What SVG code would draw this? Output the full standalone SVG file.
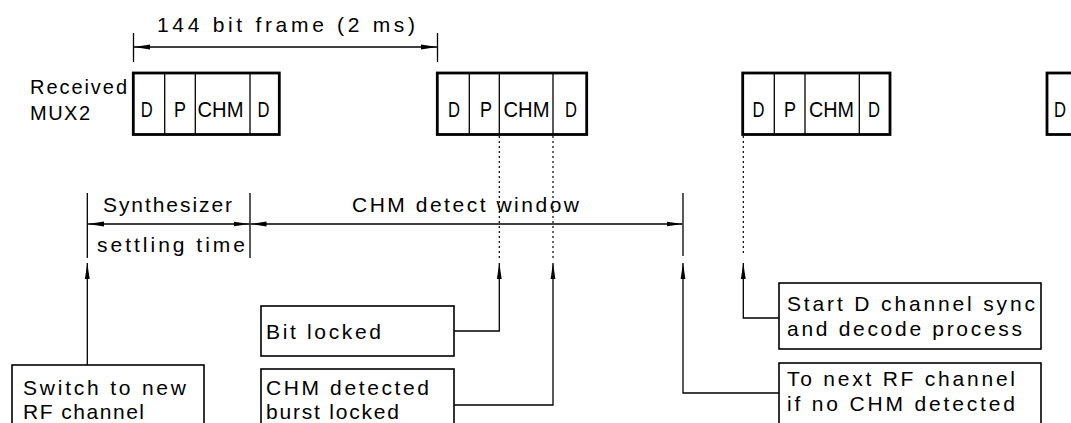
<svg xmlns="http://www.w3.org/2000/svg" width="1071" height="423" viewBox="0 0 1071 423">
<defs>
<style>
text{font-family:"Liberation Sans",Arial,sans-serif;fill:#000;}
.t{font-size:21px;}
.r{font-size:20px;}
.f{font-size:22.5px;}
.ln{stroke:#000;stroke-width:1.3;fill:none;}
.dot{stroke:#000;stroke-width:1.2;fill:none;stroke-dasharray:2 3;}
.frame{stroke:#000;stroke-width:2.8;fill:#fff;}
.div{stroke:#000;stroke-width:1.3;}
.box{stroke:#000;stroke-width:1.6;fill:#fff;}
</style>
<marker id="ah" viewBox="0 0 16 6" refX="16" refY="3" markerWidth="16" markerHeight="6" markerUnits="userSpaceOnUse" orient="auto-start-reverse">
<path d="M0,0.6 L16,3 L0,5.4 Z" fill="#000"/>
</marker>
</defs>
<rect width="1071" height="423" fill="#fff"/>

<g id="dim-frame">
<line class="ln" x1="133.5" y1="33" x2="133.5" y2="62"/>
<line class="ln" x1="437.5" y1="33" x2="437.5" y2="62"/>
<line class="ln" x1="134" y1="47" x2="437" y2="47" marker-start="url(#ah)" marker-end="url(#ah)"/>
<text class="t" x="157" y="32" textLength="258" lengthAdjust="spacing">144 bit frame (2 ms)</text>
</g>

<g id="label-received">
<text class="r" x="30" y="94" textLength="97" lengthAdjust="spacing">Received</text>
<text class="r" x="30" y="120" textLength="60" lengthAdjust="spacing">MUX2</text>
</g>

<g id="frame1">
<rect class="frame" x="133.3" y="73" width="146" height="61.5"/>
<line class="div" x1="164.7" y1="73" x2="164.7" y2="134.5"/>
<line class="div" x1="195.3" y1="73" x2="195.3" y2="134.5"/>
<line class="div" x1="250" y1="73" x2="250" y2="134.5"/>
<text class="f" x="140.7" y="116.5" textLength="12" lengthAdjust="spacingAndGlyphs">D</text>
<text class="f" x="174" y="116.5" textLength="12" lengthAdjust="spacingAndGlyphs">P</text>
<text class="f" x="197.5" y="116.5" textLength="46" lengthAdjust="spacingAndGlyphs">CHM</text>
<text class="f" x="257.5" y="116.5" textLength="12" lengthAdjust="spacingAndGlyphs">D</text>
</g>

<g id="frame2">
<rect class="frame" x="437.3" y="73" width="149.4" height="61.5"/>
<line class="div" x1="469.3" y1="73" x2="469.3" y2="134.5"/>
<line class="div" x1="499.3" y1="73" x2="499.3" y2="134.5"/>
<line class="div" x1="553" y1="73" x2="553" y2="134.5"/>
<text class="f" x="448" y="116.5" textLength="12" lengthAdjust="spacingAndGlyphs">D</text>
<text class="f" x="480" y="116.5" textLength="12" lengthAdjust="spacingAndGlyphs">P</text>
<text class="f" x="503.5" y="116.5" textLength="46" lengthAdjust="spacingAndGlyphs">CHM</text>
<text class="f" x="565" y="116.5" textLength="12" lengthAdjust="spacingAndGlyphs">D</text>
</g>

<g id="frame3">
<rect class="frame" x="742.7" y="73" width="147.3" height="61.5"/>
<line class="div" x1="774.3" y1="73" x2="774.3" y2="134.5"/>
<line class="div" x1="805" y1="73" x2="805" y2="134.5"/>
<line class="div" x1="859.3" y1="73" x2="859.3" y2="134.5"/>
<text class="f" x="752.5" y="116.5" textLength="12" lengthAdjust="spacingAndGlyphs">D</text>
<text class="f" x="784" y="116.5" textLength="12" lengthAdjust="spacingAndGlyphs">P</text>
<text class="f" x="809" y="116.5" textLength="45" lengthAdjust="spacingAndGlyphs">CHM</text>
<text class="f" x="868" y="116.5" textLength="12" lengthAdjust="spacingAndGlyphs">D</text>
</g>

<g id="frame4">
<rect class="frame" x="1047" y="73" width="40" height="61.5"/>
<text class="f" x="1054" y="116.5" textLength="12" lengthAdjust="spacingAndGlyphs">D</text>
</g>

<g id="dim-synth">
<line class="ln" x1="87.3" y1="193" x2="87.3" y2="258"/>
<line class="ln" x1="250" y1="193" x2="250" y2="258"/>
<line class="ln" x1="683" y1="193" x2="683" y2="256"/>
<line class="ln" x1="88" y1="224" x2="249.5" y2="224" marker-start="url(#ah)" marker-end="url(#ah)"/>
<line class="ln" x1="250.5" y1="224" x2="682.5" y2="224" marker-start="url(#ah)" marker-end="url(#ah)"/>
<text class="t" x="103" y="212" textLength="129" lengthAdjust="spacing">Synthesizer</text>
<text class="t" x="97" y="252" textLength="148" lengthAdjust="spacing">settling time</text>
<text class="t" x="352" y="212" textLength="227" lengthAdjust="spacing">CHM detect window</text>
</g>

<g id="box-switch">
<rect class="box" x="12" y="365" width="192" height="70"/>
<text class="t" x="23" y="395" textLength="163" lengthAdjust="spacing">Switch to new</text>
<text class="t" x="23" y="419" textLength="121" lengthAdjust="spacing">RF channel</text>
</g>

<g id="box-bit-locked">
<rect class="box" x="261" y="306" width="193" height="50"/>
<text class="t" x="266" y="339" textLength="115" lengthAdjust="spacing">Bit locked</text>
</g>

<g id="box-chm-detected">
<rect class="box" x="261" y="369" width="193" height="66"/>
<text class="t" x="266" y="395" textLength="163" lengthAdjust="spacing">CHM detected</text>
<text class="t" x="266" y="419" textLength="133" lengthAdjust="spacing">burst locked</text>
</g>

<g id="box-start-d">
<rect class="box" x="779" y="283" width="262" height="66"/>
<text class="t" x="787" y="311" textLength="248" lengthAdjust="spacing">Start D channel sync</text>
<text class="t" x="787" y="336" textLength="235" lengthAdjust="spacing">and decode process</text>
</g>

<g id="box-to-next">
<rect class="box" x="779" y="363" width="262" height="72"/>
<text class="t" x="787" y="386" textLength="228" lengthAdjust="spacing">To next RF channel</text>
<text class="t" x="787" y="411" textLength="228" lengthAdjust="spacing">if no CHM detected</text>
</g>

<g id="connectors">
<line class="dot" x1="499.3" y1="136" x2="499.3" y2="258"/>
<line class="dot" x1="553" y1="136" x2="553" y2="258"/>
<line class="dot" x1="743.3" y1="136" x2="743.3" y2="253"/>
<polyline class="ln" points="87.3,365 87.3,263" marker-end="url(#ah)"/>
<polyline class="ln" points="454,331 499.3,331 499.3,263" marker-end="url(#ah)"/>
<polyline class="ln" points="454,405 553,405 553,263" marker-end="url(#ah)"/>
<polyline class="ln" points="779,393 683,393 683,263" marker-end="url(#ah)"/>
<polyline class="ln" points="779,318 743.3,318 743.3,263" marker-end="url(#ah)"/>
</g>
</svg>
